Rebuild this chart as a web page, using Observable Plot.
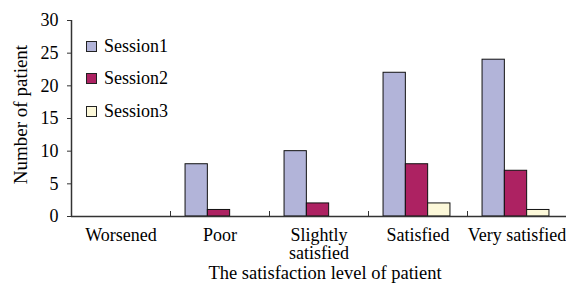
<!DOCTYPE html>
<html>
<head>
<meta charset="utf-8">
<script src="https://cdn.jsdelivr.net/npm/d3@7"></script>
<script src="https://cdn.jsdelivr.net/npm/@observablehq/plot@0.6"></script>
<style>
  html, body { margin: 0; padding: 0; background: #fff; }
  #wrap { position: relative; width: 566px; height: 287px; font-family: 'Liberation Serif', serif; }
  #legend { position: absolute; left: 86px; top: 30px; font-size: 18px; color: #000; font-family: 'Liberation Serif', serif; }
  .item { display: flex; align-items: center; height: 32.5px; }
  .sw { width: 9px; height: 9px; border: 1px solid #222; margin-right: 7px; }
  svg text { font-family: 'Liberation Serif', serif; }
</style>
</head>
<body>
<div id="wrap"></div>
<script>
const categories = ["Worsened", "Poor", "Slightly\nsatisfied", "Satisfied", "Very satisfied"];
const sessions = ["Session1", "Session2", "Session3"];
const session1 = [0, 8, 10, 22, 24];
const session2 = [0, 1, 2, 8, 7];
const session3 = [0, 0, 0, 2, 1];
const colors = ["#b2b4d9", "#ad2262", "#fcf8d9"];
const yTicks = [0, 5, 10, 15, 20, 25, 30];

const series = [session1, session2, session3];
const data = [];
sessions.forEach((s, i) => categories.forEach((c, j) => data.push({category: c, session: s, value: series[i][j]})));

const W = 566, H = 287, mL = 71, mR = 0;
const band = (W - mL - mR) / categories.length;
const barW = 22.3;

const marks = [];
sessions.forEach((s, i) => {
  marks.push(Plot.barY(data.filter(d => d.session === s && d.value > 0), {
    x: "category", y: "value", fill: colors[i], stroke: "#111", strokeWidth: 1,
    insetLeft: (band - barW) / 2, insetRight: (band - barW) / 2, dx: (i - 1) * barW - 1
  }));
});
marks.push(Plot.ruleY([0], {stroke: "#333", strokeWidth: 1.5}));
marks.push(Plot.ruleX([categories[0]], {dx: -band / 2, stroke: "#333", strokeWidth: 1.5}));
marks.push(Plot.axisY({ticks: yTicks, tickSize: 4, tickPadding: 9, fontSize: 18, label: null, stroke: "#333"}));
marks.push(Plot.axisX({tickSize: 0, tickPadding: 12, fontSize: 18, lineHeight: 1, label: null}));
marks.push(Plot.axisX({ticks: categories.slice(1), tickSize: 5, dy: -5, dx: -band / 2, tickFormat: () => "", label: null, stroke: "#333"}));
marks.push(Plot.text(["Number of patient"], {frameAnchor: "left", rotate: -90, dx: -51, dy: -4, fontSize: 19, textAnchor: "middle"}));
marks.push(Plot.text(["The satisfaction level of patient"], {frameAnchor: "bottom", dx: 6, dy: 62, fontSize: 18.5}));

const chart = Plot.plot({
  width: W, height: H,
  marginLeft: mL, marginRight: mR, marginTop: 20, marginBottom: 71,
  style: {fontFamily: "'Liberation Serif', serif", fontSize: "18px", color: "#000", background: "#fff"},
  x: {domain: categories, padding: 0},
  y: {domain: [0, 30]},
  marks
});
const wrap = document.getElementById("wrap");
wrap.appendChild(chart);
const leg = document.createElement("div");
leg.id = "legend";
sessions.forEach((s, i) => {
  const it = document.createElement("div");
  it.className = "item";
  const sw = document.createElement("div");
  sw.className = "sw";
  sw.style.background = colors[i];
  const t = document.createElement("span");
  t.textContent = s;
  it.appendChild(sw); it.appendChild(t);
  leg.appendChild(it);
});
wrap.appendChild(leg);
</script>
</body>
</html>
